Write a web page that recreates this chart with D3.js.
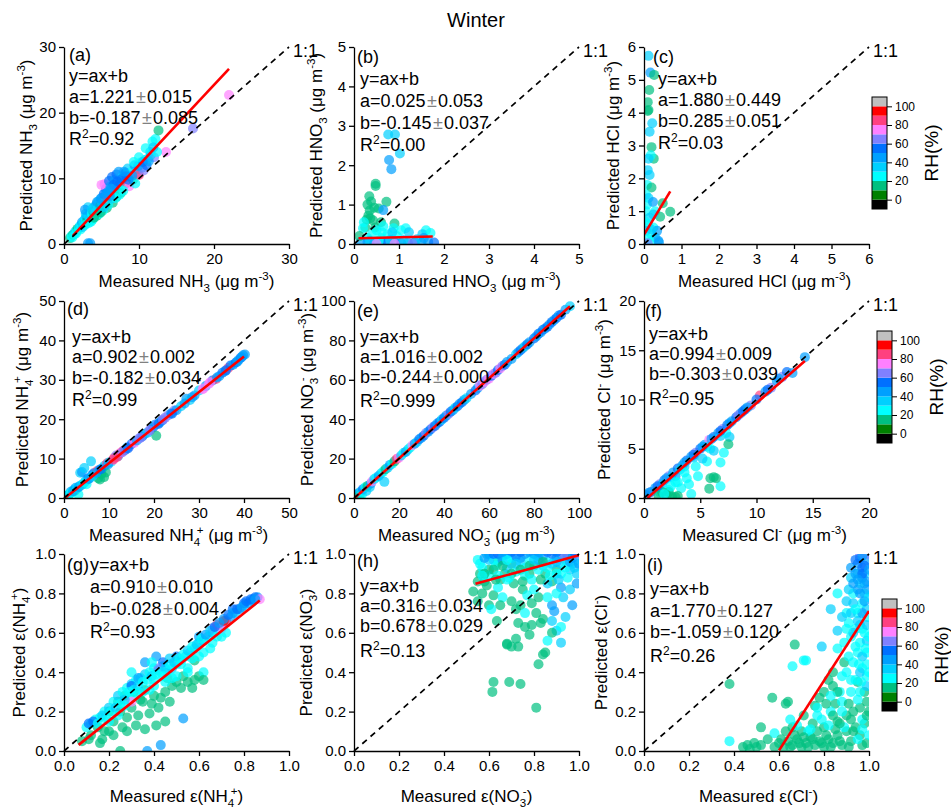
<!DOCTYPE html>
<html>
<head>
<meta charset="utf-8">
<script src="https://cdn.jsdelivr.net/npm/d3@7"></script>
<style>
body { margin: 0; background: #fff; }
svg { font-family: "Liberation Sans", Arial, sans-serif; }
</style>
</head>
<body>
<svg id="chart" width="951" height="809"></svg>
<script>
// ---- data: [measured, predicted, RH%] ----
var ptsA = [[0.8,0.9,15],[1.0,1.2,25],[1.2,1.4,15],[1.4,1.5,25],[1.5,1.9,35],[1.7,2.0,25],[1.8,2.3,15],[2.0,2.4,25],[2.1,2.7,35],[2.3,2.9,25],[2.4,3.3,45],[2.6,3.2,25],[2.7,3.6,35],[2.9,3.9,25],[3.0,4.2,45],[3.1,3.5,15],[3.3,4.4,25],[3.4,4.0,35],[3.5,4.8,45],[2.9,4.6,35],[3.2,5.6,35],[2.8,5.2,45],[3.7,4.6,25],[3.9,5.0,15],[4.0,5.6,35],[4.2,4.8,25],[4.3,6.0,45],[4.5,5.4,25],[4.6,6.5,35],[4.8,5.8,15],[5.0,7.0,45],[5.1,6.2,25],[5.3,7.6,55],[5.5,6.0,15],[5.6,8.4,55],[5.8,6.8,85],[5.0,9.0,75],[5.4,9.1,75],[6.0,9.6,55],[6.2,8.8,45],[6.4,10.2,55],[6.5,7.6,25],[6.7,8.2,65],[6.8,9.8,45],[7.0,10.6,55],[7.2,8.8,35],[7.3,11.0,45],[7.5,9.4,55],[7.6,7.8,15],[7.8,10.2,35],[8.0,9.0,25],[8.2,10.8,55],[8.4,9.3,85],[8.5,11.5,35],[8.7,8.8,75],[8.8,10.4,45],[9.0,11.0,25],[9.2,9.8,15],[9.4,12.0,45],[9.6,10.8,65],[9.8,11.4,35],[10.0,10.5,85],[10.2,12.4,25],[10.4,11.6,45],[10.6,11.2,65],[10.8,12.8,35],[11.0,12.0,55],[11.2,13.0,25],[11.5,14.0,35],[11.8,15.6,25],[12.0,13.2,65],[12.2,16.0,25],[12.6,17.3,15],[13.6,14.0,75],[17.2,17.6,65],[22.0,22.7,75],[3.2,0.1,45],[3.5,0.1,45],[6.5,6.3,15],[7.0,7.2,15],[5.7,5.5,15],[4.4,4.3,15],[9.5,9.2,25],[3.6,3.4,25],
  [1.1,1.0,25],[1.6,1.6,25],[2.2,2.2,25],[2.5,2.6,35],[2.8,2.9,25],[3.3,3.2,25],[3.8,3.7,25],[4.1,4.2,25],[4.7,4.6,25],[5.2,5.1,25],[5.9,6.0,25],[6.3,6.9,35],[6.9,7.0,25],[7.4,7.5,25],[7.9,8.1,25],[8.6,9.8,55],[6.6,9.0,55],[7.1,9.5,55],[5.9,8.0,45],[6.1,7.3,45],[7.7,9.9,55],[8.3,10.3,55],[9.1,10.4,45],[9.9,11.9,45],[10.5,12.5,55],[11.3,12.6,45],[11.6,13.6,35],[12.4,14.0,25],[4.0,4.0,15],[4.9,4.8,15],[5.3,5.6,35],[3.7,5.3,35],[4.4,6.4,45],[4.9,6.9,45],[5.6,7.7,45],[6.3,8.4,45],[8.0,11.0,45],[9.3,12.5,25],[10.0,13.2,25],[10.9,14.6,25],[11.9,14.7,35]];
var ptsB = [[0.76,2.78,35],[0.91,2.78,35],[0.78,2.13,45],[1.02,2.3,35],[0.83,1.9,45],[0.48,1.53,15],[0.48,1.47,15],[0.34,1.21,15],[0.3,1.0,15],[0.38,1.08,15],[0.35,0.85,15],[0.45,0.92,15],[0.72,1.07,15],[0.55,0.9,15],[0.32,0.72,15],[0.36,0.65,15],[0.42,0.6,15],[0.28,0.62,15],[0.6,0.55,15],[0.9,0.52,15],[0.25,0.42,15],[0.47,0.42,15],[0.65,0.86,45],[0.2,0.4,25],[0.5,0.35,25],[0.62,0.3,25],[0.75,0.25,25],[0.88,0.4,25],[1.05,0.35,25],[1.15,0.4,25],[1.22,0.3,35],[1.6,0.35,25],[1.52,0.25,35],[1.7,0.28,25],[0.95,0.2,25],[0.6,0.15,25],[0.3,0.15,25],[0.4,0.25,25],[0.15,0.05,45],[0.3,0.05,45],[0.45,0.02,55],[0.6,0.05,45],[0.75,0.03,55],[0.9,0.05,45],[1.05,0.02,55],[1.2,0.04,45],[1.35,0.05,55],[1.5,0.03,45],[1.65,0.05,45],[1.78,0.04,55],[1.4,0.12,35],[1.55,0.15,45],[1.1,0.1,35],[0.8,0.1,35],[0.55,0.08,25],[0.35,0.08,35],[0.5,0.0,75],[0.9,0.0,75],[1.3,0.0,65],[0.65,0.45,25],[0.85,0.3,35],[0.12,0.2,15],[0.22,0.55,25]];
var ptsC = [[0.12,5.73,35],[0.17,5.22,45],[0.27,5.15,15],[0.14,4.69,15],[0.1,4.32,15],[0.12,4.08,15],[0.1,4.05,15],[0.22,3.68,35],[0.15,3.42,35],[0.2,2.95,15],[0.26,2.6,15],[0.18,2.7,25],[0.12,2.6,35],[0.1,2.25,35],[0.15,2.1,35],[0.08,1.8,25],[0.2,1.72,15],[0.05,1.5,25],[0.12,1.4,35],[0.08,1.2,25],[0.24,1.28,45],[0.3,1.0,25],[0.05,1.0,25],[0.15,0.8,35],[0.1,0.6,25],[0.25,0.5,25],[0.05,0.4,35],[0.2,0.3,25],[0.3,0.2,35],[0.1,0.15,25],[0.35,0.4,45],[0.38,0.1,45],[0.15,0.05,25],[0.4,0.05,45],[0.5,1.24,15],[0.7,0.98,15],[0.43,0.83,15],[0.1,0.02,65],[0.25,0.9,35],[0.02,0.7,25],[0.18,0.45,35]];
var ptsD = [[0.3,0.2,25],[0.6,0.5,35],[0.9,0.6,15],[1.2,1.0,25],[1.5,1.6,45],[1.8,1.4,25],[2.1,2.0,35],[2.4,1.8,15],[2.6,2.6,45],[3.0,2.5,25],[3.2,0.9,25],[3.4,3.0,35],[3.6,6.4,35],[4.0,6.6,45],[4.5,7.6,35],[4.2,3.5,25],[4.8,4.3,45],[5.0,3.5,25],[5.3,4.9,55],[5.7,5.0,35],[6.0,9.3,35],[6.2,5.8,45],[6.6,6.3,55],[7.0,6.0,25],[7.3,6.8,85],[7.6,5.0,15],[7.9,7.2,45],[8.0,4.7,15],[8.3,6.1,15],[8.6,7.6,25],[8.9,5.3,15],[9.0,8.2,35],[9.3,6.5,15],[9.6,8.8,85],[10.0,9.0,35],[10.5,9.2,25],[10.8,9.6,75],[11.2,10.2,85],[11.6,10.8,65],[12.0,10.6,45],[12.4,11.3,85],[12.8,11.6,75],[13.2,12.0,85],[13.6,12.2,55],[14.0,12.8,45],[14.5,13.0,65],[15.0,13.7,55],[15.6,14.0,75],[16.2,14.6,45],[16.8,15.2,65],[17.4,15.6,55],[18.0,16.3,45],[18.6,16.6,35],[19.2,17.3,65],[19.8,17.9,55],[20.2,18.6,45],[20.5,15.8,15],[20.8,18.9,65],[21.3,19.2,35],[21.8,19.7,55],[22.5,20.4,65],[23.2,21.0,65],[23.8,21.5,45],[24.5,22.2,65],[25.0,22.3,45],[26.0,23.3,35],[27.2,25.2,45],[28.0,24.9,35],[29.0,26.0,45],[30.0,27.3,35],[30.8,27.6,75],[31.5,28.4,45],[32.2,29.0,75],[33.0,29.8,55],[33.8,30.2,85],[34.5,30.9,45],[35.2,31.8,55],[35.8,32.2,45],[36.5,33.0,85],[37.0,33.6,55],[37.6,33.8,45],[38.2,34.4,55],[38.8,35.0,45],[39.3,35.6,55],[39.8,36.2,45],[40.2,36.4,45],
  [0.5,0.4,45],[1.0,0.8,35],[1.4,1.2,25],[2.0,1.7,45],[2.8,2.4,35],[3.3,2.8,45],[3.9,3.3,35],[4.6,4.0,25],[5.5,4.8,45],[6.4,5.6,35],[7.2,6.4,45],[8.2,7.3,55],[9.8,8.5,45],[11.0,9.8,85],[11.8,10.4,85],[13.0,11.6,65],[14.2,12.6,55],[17.0,15.3,65],[19.0,17.1,65],[21.0,18.8,55],[22.0,19.9,65],[24.0,21.4,55],[26.8,24.0,45],[28.5,25.6,45],[31.0,27.8,75],[32.5,29.4,75],[34.0,30.6,45],[36.0,32.4,55],[38.5,34.6,45],[39.5,35.8,45]];
var ptsE = [[0.5,0.8,25],[1,1.8,35],[1.5,0.5,25],[2,2.4,45],[2.5,1.2,15],[3,3.3,35],[3.5,1.8,25],[4,4.5,55],[5,5.4,25],[5.5,3.6,35],[6,6.1,15],[7,5.5,35],[7.5,7.4,45],[8,8.4,75],[9,9.6,35],[10,10.4,25],[11,11.2,45],[12,12.4,35],[13.5,8.2,35],[13,13.4,25],[14,14.6,15],[15,15.4,35],[16,16.8,45],[17,17.4,25],[18,18.6,15],[19,19.8,85],[20,20.4,75],[21,21.6,35],[22,22.8,25],[23,23.4,45],[24,24.6,35],[25,25.6,25],[26,26.8,75],[27,27.6,45],[28,28.4,35],[29,29.8,55],[30,30.6,45],[31,31.6,55],[32,33,65],[33,33.6,45],[34,34.8,55],[35,35.8,65],[36,36.6,55],[37,37.8,45],[38,38.6,55],[39,39.8,35],[40,40.6,55],[41,41.8,45],[42,42.6,65],[43,43.8,55],[44,44.6,45],[45,45.8,35],[46,46.6,55],[47,47.8,45],[48,48.6,55],[49,49.8,45],[50,50.6,35],[52,52.8,45],[54,54.6,55],[55,55.8,45],[56,57,75],[57,57.8,65],[58,59,75],[59,60,65],[60,60.6,75],[61,62,55],[62,63,75],[63,63.6,65],[64,65,55],[65,65.8,75],[66,67,65],[67,67.6,55],[68,69,45],[70,70.6,45],[72,73,35],[73,74,45],[74,75,55],[75,76,45],[76,77,35],[77,78,55],[78,79,45],[80,81,55],[81,82,45],[82,83.4,55],[83,84,45],[84,85.4,55],[85,86,45],[86,87,55],[87,88.2,45],[88,89.4,55],[89,90.4,45],[90,91.4,55],[91,92.6,45],[92,93,55],[94,95.6,45],[96,97.3,35]];
var ptsF = [[0.2,0.3,45],[0.6,0.6,55],[1,1,45],[1.4,1.4,65],[1.8,1.8,55],[2.2,2.2,65],[2.6,2.6,45],[3.0,3.0,55],[3.4,3.3,45],[3.8,3.8,55],[4.2,4.2,45],[4.6,4.6,65],[5.0,5.0,55],[5.4,5.4,45],[5.8,5.9,75],[6.2,6.2,55],[6.6,6.6,45],[7.0,7.0,65],[7.4,7.4,55],[7.8,7.8,45],[8.2,8.2,55],[8.6,8.6,45],[9.0,9.0,55],[9.5,9.4,65],[10.3,10.4,85],[10.8,10.8,45],[11.3,11.2,65],[11.8,11.9,45],[12.3,12.3,65],[12.7,12.8,55],[13.2,12.7,45],[14.3,14.3,45],[1.6,1.4,35],[2.4,2.1,35],[3.2,2.9,35],[4.4,4.1,35],[5.6,5.2,35],[6.8,6.3,35],[2.8,2.2,45],[3.6,3.2,35],[7.3,6.6,25],[7.1,4.6,25],[5.9,5.0,25],[5.6,3.7,25],[6.8,3.6,25],[4.6,3.2,25],[6.8,1.2,25],[4.0,1.4,25],[3.3,1.0,25],[4.2,0.4,25],[2.8,1.6,25],[3.6,2.6,25],[4.8,2.2,25],[2.2,0.8,25],[1.4,0.6,25],[5.2,4.0,35],[6.2,4.8,35],[7.6,6.2,35],[7.5,5.45,15],[5.9,2.0,15],[6.2,2.1,15],[6.4,2.0,15],[5.8,0.95,15],[2.5,0.1,15],[3.0,0.2,15],[2.0,0.3,15],[1.6,0.6,15],[1.3,0.2,15],[2.8,0.1,15],[2.2,0.6,15],
  [0.4,0.5,45],[1.2,1.2,55],[2.0,2.0,45],[3.6,3.6,45],[4.4,4.4,55],[5.2,5.2,45],[6.0,6.0,45],[6.8,6.8,55],[7.6,7.6,45],[8.4,8.4,65],[8.8,8.8,55],[9.2,9.2,45],[10.0,10.0,55],[11.0,11.0,55],[12.0,12.1,45],[2.4,1.2,25],[3.0,1.6,25],[3.8,2.0,25],[1.8,0.4,25]];
var ptsG = [[0.25,0.0,15],[0.17,0.06,15],[0.2,0.1,15],[0.22,0.15,15],[0.25,0.2,15],[0.28,0.17,15],[0.3,0.22,15],[0.32,0.13,15],[0.35,0.25,15],[0.38,0.19,15],[0.4,0.28,15],[0.42,0.22,15],[0.45,0.3,15],[0.48,0.33,15],[0.5,0.35,15],[0.53,0.38,15],[0.55,0.35,15],[0.58,0.36,15],[0.6,0.38,15],[0.58,0.46,15],[0.15,0.12,15],[0.12,0.08,15],[0.08,0.05,15],[0.27,0.28,15],[0.2,0.2,15],[0.24,0.25,15],[0.31,0.3,15],[0.26,0.12,15],[0.36,0.31,15],[0.46,0.37,15],[0.36,0.11,15],[0.1,0.12,25],[0.12,0.14,25],[0.14,0.16,25],[0.16,0.17,25],[0.18,0.2,25],[0.2,0.22,35],[0.22,0.25,25],[0.24,0.28,35],[0.26,0.3,25],[0.28,0.32,25],[0.3,0.34,35],[0.32,0.36,25],[0.34,0.37,25],[0.36,0.39,35],[0.38,0.4,25],[0.4,0.42,25],[0.42,0.41,35],[0.44,0.43,25],[0.46,0.4,25],[0.48,0.42,35],[0.5,0.44,25],[0.52,0.46,25],[0.54,0.48,35],[0.56,0.5,25],[0.58,0.52,35],[0.6,0.55,25],[0.62,0.56,35],[0.64,0.58,25],[0.66,0.6,35],[0.68,0.62,25],[0.7,0.64,35],[0.72,0.66,35],[0.74,0.68,45],[0.76,0.7,35],[0.78,0.72,45],[0.8,0.74,35],[0.82,0.75,45],[0.84,0.77,45],[0.86,0.78,45],[0.3,0.28,25],[0.35,0.3,25],[0.45,0.35,25],[0.5,0.38,25],[0.55,0.42,25],[0.6,0.48,25],[0.65,0.52,25],[0.7,0.58,25],[0.41,0.48,45],[0.3,0.4,25],[0.55,0.4,25],[0.62,0.4,25],[0.4,0.33,25],[0.11,0.14,55],[0.13,0.15,55],[0.3,0.33,55],[0.33,0.37,45],[0.5,0.48,55],[0.6,0.58,45],[0.75,0.72,55],[0.8,0.75,55],[0.85,0.78,55],[0.84,0.76,45],[0.44,0.45,55],[0.53,0.165,45],[0.43,0.03,45],[0.37,0.0,45],[0.68,0.64,85],[0.72,0.65,85],[0.7,0.62,75],[0.87,0.77,75],[0.66,0.62,65],[0.42,0.42,65],[0.3,0.25,75],[0.71,0.66,95],
  [0.15,0.14,25],[0.17,0.18,35],[0.19,0.16,25],[0.21,0.2,25],[0.23,0.22,35],[0.25,0.24,25],[0.27,0.26,35],[0.29,0.3,25],[0.31,0.31,25],[0.33,0.33,35],[0.35,0.35,25],[0.37,0.36,25],[0.39,0.38,35],[0.41,0.39,25],[0.43,0.4,25],[0.45,0.42,35],[0.47,0.44,25],[0.49,0.45,35],[0.51,0.47,25],[0.53,0.49,25],[0.55,0.51,35],[0.57,0.53,25],[0.59,0.54,35],[0.61,0.57,25],[0.63,0.59,45],[0.65,0.61,35],[0.67,0.63,55],[0.69,0.65,45],[0.71,0.67,45],[0.73,0.69,55],[0.75,0.7,45],[0.77,0.72,55],[0.79,0.73,45],[0.81,0.76,55],[0.83,0.77,55],[0.85,0.77,45],[0.36,0.45,45],[0.39,0.45,25],[0.47,0.47,35],[0.52,0.44,25],[0.57,0.47,25],[0.62,0.5,25],[0.66,0.55,25],[0.68,0.58,25],[0.72,0.6,25],[0.4,0.36,25],[0.44,0.38,25],[0.33,0.3,25],[0.27,0.23,25],[0.2,0.15,25],[0.24,0.18,25],[0.38,0.31,25],[0.48,0.37,25],[0.34,0.26,15],[0.39,0.24,15],[0.43,0.27,15],[0.47,0.25,15],[0.52,0.32,15],[0.57,0.32,15],[0.62,0.36,15],[0.18,0.1,15],[0.22,0.08,15],[0.28,0.1,15],[0.33,0.18,15],[0.16,0.04,15],[0.11,0.06,15],[0.45,0.15,15],[0.41,0.13,15]];
var ptsH = [[0.53,0.81,15],[0.55,0.76,15],[0.57,0.8,15],[0.58,0.86,15],[0.62,0.79,15],[0.6,0.74,15],[0.635,0.66,15],[0.68,0.54,15],[0.68,0.545,15],[0.7,0.53,15],[0.72,0.57,15],[0.73,0.53,15],[0.62,0.35,15],[0.615,0.3,15],[0.69,0.35,15],[0.74,0.34,15],[0.81,0.22,15],[0.73,0.65,15],[0.76,0.63,15],[0.79,0.64,15],[0.83,0.65,15],[0.81,0.7,15],[0.84,0.67,15],[0.82,0.44,15],[0.85,0.5,15],[0.84,0.49,15],[0.74,0.74,15],[0.72,0.72,15],[0.71,0.85,15],[0.75,0.82,15],[0.82,0.78,15],[0.65,0.87,15],[0.67,0.9,15],[0.78,0.9,15],[0.88,0.86,15],[0.6,0.92,15],[0.7,0.95,15],[0.8,0.94,15],[0.9,0.92,15],[0.56,0.9,15],[0.64,0.96,15],[0.85,0.9,15],[0.61,0.72,25],[0.6,0.89,25],[0.64,0.83,25],[0.77,0.79,25],[0.8,0.82,25],[0.88,0.66,35],[0.9,0.61,35],[0.92,0.55,35],[0.68,0.87,25],[0.72,0.91,25],[0.86,0.85,35],[0.57,0.93,25],[0.62,0.97,25],[0.66,0.99,35],[0.7,0.98,25],[0.74,0.96,35],[0.78,0.97,25],[0.82,0.99,35],[0.86,0.96,25],[0.9,0.98,35],[0.94,0.97,25],[0.97,0.95,35],[0.55,0.97,25],[0.59,1.0,35],[0.63,0.94,25],[0.68,0.93,35],[0.76,0.93,25],[0.84,0.94,35],[0.92,0.9,25],[0.96,0.92,35],[0.99,0.97,25],[0.88,0.74,45],[0.89,0.71,45],[0.92,0.83,45],[0.6,1.0,45],[0.64,1.0,55],[0.68,1.0,45],[0.72,0.99,55],[0.76,1.0,45],[0.8,1.0,55],[0.84,0.99,45],[0.88,1.0,55],[0.92,1.0,45],[0.95,0.99,55],[0.98,1.0,45],[0.7,1.01,55],[0.78,1.01,45],[0.86,1.01,55],[0.94,1.01,45],[0.66,0.97,45],[0.74,0.98,45],[0.82,0.97,45],[0.9,0.96,45],[0.97,0.98,45],[0.99,1.0,65],[0.93,1.0,65],
  [0.56,0.95,25],[0.58,0.9,15],[0.6,0.97,35],[0.62,0.92,15],[0.64,0.89,25],[0.66,0.94,15],[0.68,0.97,25],[0.7,0.9,15],[0.72,0.95,35],[0.74,0.92,15],[0.76,0.89,25],[0.78,0.94,15],[0.8,0.97,35],[0.82,0.92,25],[0.84,0.96,15],[0.86,0.93,25],[0.88,0.95,35],[0.9,0.9,25],[0.92,0.95,35],[0.94,0.93,25],[0.96,0.96,45],[0.98,0.93,35],[1.0,0.95,45],[0.58,0.98,45],[0.62,1.0,55],[0.66,1.01,45],[0.74,1.01,55],[0.82,1.01,45],[0.9,1.01,55],[0.98,1.01,55],[0.63,0.87,15],[0.69,0.88,25],[0.75,0.86,15],[0.79,0.87,25],[0.83,0.87,15],[0.87,0.89,25],[0.91,0.87,35],[0.95,0.88,25],[0.99,0.9,35],[0.93,0.78,35],[0.96,0.82,35],[0.9,0.8,25],[0.86,0.78,25],[0.99,0.85,45],[0.94,0.68,35],[0.97,0.74,45],[0.92,0.63,25],[0.88,0.6,15],[0.79,0.75,15],[0.76,0.7,25],[0.7,0.76,15],[0.66,0.78,25],[0.59,0.84,15],[0.55,0.86,15],[0.57,0.89,25],[0.65,0.74,15],[0.78,0.59,15],[0.86,0.56,25]];
var ptsI = [[0.38,0.34,15],[0.44,0.02,15],[0.46,0.03,15],[0.47,0.01,15],[0.49,0.04,15],[0.5,0.02,15],[0.52,0.03,15],[0.52,0.12,15],[0.57,0.27,15],[0.64,0.25,15],[0.63,0.24,15],[0.67,0.54,15],[0.76,0.23,15],[0.84,0.40,15],[0.82,0.36,15],[0.84,0.33,15],[0.85,0.24,15],[0.89,0.45,15],[0.8,0.3,15],[0.78,0.27,15],[0.6,0.04,15],[0.62,0.02,15],[0.64,0.05,15],[0.66,0.03,15],[0.68,0.06,15],[0.7,0.02,15],[0.72,0.04,15],[0.74,0.07,15],[0.76,0.03,15],[0.78,0.05,15],[0.8,0.02,15],[0.82,0.06,15],[0.84,0.04,15],[0.86,0.08,15],[0.88,0.03,15],[0.9,0.1,15],[0.92,0.05,15],[0.94,0.12,15],[0.96,0.08,15],[0.98,0.14,15],[0.97,0.03,15],[0.86,0.15,15],[0.9,0.18,15],[0.8,0.12,15],[0.75,0.14,15],[0.7,0.1,15],[0.66,0.12,15],[0.55,0.06,15],[0.58,0.02,15],[0.93,0.2,15],[0.96,0.22,15],[0.99,0.25,15],[0.95,0.35,15],[0.98,0.3,15],[0.38,0.05,25],[0.58,0.09,25],[0.65,0.16,25],[0.66,0.43,25],[0.72,0.46,25],[0.71,0.46,25],[0.79,0.53,35],[0.86,0.52,25],[0.86,0.61,35],[0.83,0.72,35],[0.9,0.7,25],[0.86,0.8,25],[0.73,0.1,25],[0.77,0.18,25],[0.83,0.2,25],[0.88,0.25,25],[0.92,0.3,25],[0.9,0.4,25],[0.93,0.45,25],[0.95,0.5,25],[0.97,0.42,25],[0.99,0.38,25],[0.92,0.58,25],[0.94,0.62,25],[0.96,0.55,25],[0.98,0.6,25],[0.91,0.65,25],[0.95,0.7,25],[0.97,0.75,25],[0.99,0.68,25],[0.93,0.8,25],[0.96,0.85,25],[0.98,0.8,25],[0.99,0.5,25],[0.94,0.36,25],[0.97,0.16,25],[0.93,0.75,35],[0.96,0.64,35],[0.99,0.72,35],[0.95,0.9,35],[0.92,0.88,35],[0.98,0.9,35],[0.95,0.95,45],[0.97,0.93,55],[0.99,0.97,45],[0.96,0.98,55],[0.98,0.85,45],[0.97,0.88,45],[0.94,0.9,45],[0.99,0.82,45],[0.95,0.82,45],[0.96,1.0,65],[0.99,1.0,65],
  [0.87,0.05,15],[0.91,0.02,15],[0.95,0.06,25],[0.99,0.04,15],[0.89,0.12,25],[0.93,0.1,15],[0.97,0.11,25],[0.99,0.18,15],[0.88,0.2,25],[0.92,0.16,15],[0.95,0.26,25],[0.91,0.24,15],[0.87,0.3,25],[0.96,0.3,25],[0.99,0.33,35],[0.92,0.36,25],[0.88,0.38,25],[0.96,0.4,35],[0.99,0.44,25],[0.91,0.48,25],[0.97,0.48,35],[0.94,0.53,25],[0.89,0.55,25],[0.99,0.56,35],[0.93,0.6,35],[0.97,0.62,25],[0.9,0.62,25],[0.88,0.68,35],[0.95,0.66,35],[0.99,0.64,35],[0.92,0.7,35],[0.97,0.7,45],[0.9,0.76,35],[0.94,0.72,25],[0.98,0.76,45],[0.91,0.82,35],[0.96,0.8,45],[0.99,0.86,45],[0.93,0.85,45],[0.97,0.9,55],[0.95,0.87,45],[0.92,0.93,45],[0.98,0.94,55],[0.94,0.97,55],[0.97,0.99,45],[1.0,0.92,45],[1.0,0.78,35],[1.0,0.58,25],[1.0,0.4,25],[1.0,0.2,15],[1.0,0.08,25],[0.985,0.52,25],[0.965,0.35,25],[0.955,0.44,25],[0.61,0.06,15],[0.63,0.1,15],[0.65,0.02,15],[0.67,0.08,15],[0.69,0.04,15],[0.71,0.07,15],[0.73,0.02,15],[0.75,0.06,15],[0.77,0.1,15],[0.79,0.04,15],[0.81,0.08,15],[0.83,0.02,15],[0.85,0.11,15],[0.87,0.14,15],[0.79,0.16,25],[0.82,0.13,25],[0.74,0.11,25],[0.68,0.13,25],[0.84,0.18,15],[0.71,0.18,15],[0.77,0.22,25],[0.81,0.24,15],[0.86,0.3,15],[0.83,0.28,25]];

var panelTags  = ['(a)','(b)','(c)','(d)','(e)','(f)','(g)','(h)','(i)'];
var axisMax    = [30, 5, 6, 50, 100, 20, 1, 1, 1];
var tickLists  = [[0,10,20,30],[0,1,2,3,4,5],[0,1,2,3,4,5,6],[0,10,20,30,40,50],[0,20,40,60,80,100],[0,5,10,15,20],
                  [0,0.2,0.4,0.6,0.8,1.0],[0,0.2,0.4,0.6,0.8,1.0],[0,0.2,0.4,0.6,0.8,1.0]];
// fitted lines as drawn (slope, intercept, x range)
var fitSlope   = [1.221, 0.025, 1.880, 0.902, 1.016, 0.994, 0.910, 0.316, 1.770];
var fitInter   = [-0.187, 0.145, 0.285, -0.182, -0.244, -0.303, -0.028, 0.678, -1.059];
var fitFrom    = [1.2, 0.1, 0.01, 0.4, 0.3, 0.3, 0.065, 0.54, 0.6];
var fitTo      = [22, 1.75, 0.7, 40, 96, 14.3, 0.87, 1.0, 1.0];
var aVal  = ['1.221','0.025','1.880','0.902','1.016','0.994','0.910','0.316','1.770'];
var aErr  = ['0.015','0.053','0.449','0.002','0.002','0.009','0.010','0.034','0.127'];
var bVal  = ['-0.187','-0.145','0.285','-0.182','-0.244','-0.303','-0.028','0.678','-1.059'];
var bErr  = ['0.085','0.037','0.051','0.034','0.000','0.039','0.004','0.029','0.120'];
var r2Val = ['0.92','0.00','0.03','0.99','0.999','0.95','0.93','0.13','0.26'];

var rhBreaks = [0,10,20,30,40,50,60,70,80,90,100];
var rhColors = ['#000000','#008000','#00c080','#00ffff','#00d0ff','#00a0ff','#0070ff','#8080ff','#ff80ff','#ff4080','#ff0000','#c0c0c0'];
var rhTicks  = [0,20,40,60,80,100];

// labels: [text, kind]
var yLabels = [
  [['Predicted NH'],['3','sub'],[' (μg m'],['-3','sup'],[')']],
  [['Predicted HNO'],['3','sub'],[' (μg m'],['-3','sup'],[')']],
  [['Predicted HCl (μg m'],['-3','sup'],[')']],
  [['Predicted NH'],['4','sub'],['+','supk'],[' (μg m'],['-3','sup'],[')']],
  [['Predicted NO'],['3','sub'],['-','supk'],[' (μg m'],['-3','sup'],[')']],
  [['Predicted Cl'],['-','sup'],[' (μg m'],['-3','sup'],[')']],
  [['Predicted ε(NH'],['4','sub'],['+','supk'],[')']],
  [['Predicted ε(NO'],['3','sub'],['-','supk'],[')']],
  [['Predicted ε(Cl'],['-','sup'],[')']]
];
var xLabels = [
  [['Measured NH'],['3','sub'],[' (μg m'],['-3','sup'],[')']],
  [['Measured HNO'],['3','sub'],[' (μg m'],['-3','sup'],[')']],
  [['Measured HCl (μg m'],['-3','sup'],[')']],
  [['Measured NH'],['4','sub'],['+','supk'],[' (μg m'],['-3','sup'],[')']],
  [['Measured NO'],['3','sub'],['-','supk'],[' (μg m'],['-3','sup'],[')']],
  [['Measured Cl'],['-','sup'],[' (μg m'],['-3','sup'],[')']],
  [['Measured ε(NH'],['4','sub'],['+','supk'],[')']],
  [['Measured ε(NO'],['3','sub'],['-','supk'],[')']],
  [['Measured ε(Cl'],['-','sup'],[')']]
];

var allPts = [ptsA, ptsB, ptsC, ptsD, ptsE, ptsF, ptsG, ptsH, ptsI];

// ---- layout ----
var colLeft = [64, 354, 644], rowTop = [47, 301, 554], W = 225, H = 197;
var ann = [
  {lx:5, ly:14, tx:5,  ty:[35,56,77,98]},
  {lx:3, ly:16, tx:6,  ty:[38,60,82,104]},
  {lx:9, ly:16, tx:14, ty:[38,59,80,102]},
  {lx:3, ly:14, tx:8,  ty:[42,62,83,105]},
  {lx:3, ly:16, tx:6,  ty:[42,62,82,106]},
  {lx:1, ly:16, tx:5,  ty:[39,59,79,104]},
  {lx:3, ly:17, tx:26, ty:[17,39,61,84]},
  {lx:3, ly:13, tx:6,  ty:[38,58,78,103]},
  {lx:3, ly:17, tx:6,  ty:[41,63,84,108]}
];
var yLabX = [32, 322, 619, 28, 313, 610, 25, 312, 607];
var xLabDx = [10, 0, 8, 2, 0, 8, 0, 0, 2];
var cbarPos = [[872, 97], [877, 331], [882, 599]];

var svg = d3.select('#chart');
var rhColor = d3.scaleThreshold().domain(rhBreaks).range(rhColors);

svg.append('text')
  .attr('x', 476).attr('y', 27)
  .attr('text-anchor', 'middle')
  .attr('font-size', 20)
  .text('Winter');

function rich(textSel, parts, size) {
  var shift = 0;
  parts.forEach(function(p) {
    var t = textSel.append('tspan').text(p[0]);
    var target = 0;
    if (p[1] === 'sub') { target = size * 0.3; t.attr('font-size', size * 0.68); }
    if (p[1] === 'sup' || p[1] === 'supk') { target = -size * 0.42; t.attr('font-size', size * 0.68); }
    if (p[1] === 'supk') t.attr('dx', -size * 0.2);
    if (target !== shift) { t.attr('dy', target - shift); shift = target; }
  });
}

allPts.forEach(function(pts, i) {
  var col = i % 3, row = Math.floor(i / 3);
  var left = colLeft[col], top = rowTop[row];
  var x = d3.scaleLinear().domain([0, axisMax[i]]).range([0, W]);
  var y = d3.scaleLinear().domain([0, axisMax[i]]).range([H, 0]);
  var fmt = axisMax[i] === 1 ? d3.format('.1f') : d3.format('d');

  var g = svg.append('g').attr('transform', 'translate(' + left + ',' + top + ')');

  g.append('clipPath').attr('id', 'clip' + i)
    .append('rect').attr('width', W).attr('height', H);

  var plot = g.append('g').attr('clip-path', 'url(#clip' + i + ')');

  plot.selectAll('circle')
    .data(pts)
    .enter()
    .append('circle')
    .attr('cx', function(d) { return x(d[0]); })
    .attr('cy', function(d) { return y(d[1]); })
    .attr('r', 5)
    .attr('fill', function(d) { return rhColor(d[2]); })
    .attr('fill-opacity', 0.7);

  // 1:1 line
  g.append('line')
    .attr('x1', x(0)).attr('y1', y(0))
    .attr('x2', x(axisMax[i])).attr('y2', y(axisMax[i]))
    .attr('stroke', '#000').attr('stroke-width', 1.7)
    .attr('stroke-dasharray', '6,5');

  // fit
  plot.append('line')
    .attr('x1', x(fitFrom[i])).attr('y1', y(fitSlope[i] * fitFrom[i] + fitInter[i]))
    .attr('x2', x(fitTo[i])).attr('y2', y(fitSlope[i] * fitTo[i] + fitInter[i]))
    .attr('stroke', '#ff0000').attr('stroke-width', 2.6);

  var xAxis = d3.axisBottom(x).tickValues(tickLists[i]).tickFormat(fmt).tickSize(5).tickSizeOuter(0).tickPadding(4);
  var yAxis = d3.axisLeft(y).tickValues(tickLists[i]).tickFormat(fmt).tickSize(5).tickSizeOuter(0).tickPadding(3);

  g.append('g').attr('transform', 'translate(0,' + H + ')').call(xAxis);
  g.append('g').call(yAxis);
  g.selectAll('.domain, .tick line').attr('stroke', '#000').attr('stroke-width', 1.3);
  g.selectAll('.tick text').attr('font-size', 15).attr('font-family', '"Liberation Sans", Arial, sans-serif').attr('fill', '#000');

  g.append('text').attr('x', W + 4).attr('y', 10).attr('font-size', 18).text('1:1');

  // annotations
  var a = ann[i];
  g.append('text').attr('x', a.lx).attr('y', a.ly).attr('font-size', 18).text(panelTags[i]);
  var lines = [
    [['y=ax+b']],
    [['a=' + aVal[i]], ['±', 'pm'], [aErr[i], 'after']],
    [['b=' + bVal[i]], ['±', 'pm'], [bErr[i], 'after']],
    [['R'], ['2', 'sup'], ['=' + r2Val[i]]]
  ];
  lines.forEach(function(parts, k) {
    var t = g.append('text').attr('x', a.tx).attr('y', a.ty[k]).attr('font-size', 18);
    var shift = 0;
    parts.forEach(function(p) {
      var s = t.append('tspan').text(p[0]);
      if (p[1] === 'pm') s.attr('fill', '#808080').attr('dx', 1.5);
      if (p[1] === 'after') s.attr('dx', 1);
      if (p[1] === 'sup') { s.attr('font-size', 12).attr('dy', -7); shift = -7; }
      else if (shift !== 0) { s.attr('dy', -shift); shift = 0; }
    });
  });

  // axis labels
  var xl = g.append('text')
    .attr('x', W / 2 + xLabDx[i])
    .attr('y', H + (row === 2 ? 51 : 43))
    .attr('text-anchor', 'middle')
    .attr('font-size', 17);
  rich(xl, xLabels[i], 17);

  var yl = svg.append('text')
    .attr('transform', 'translate(' + yLabX[i] + ',' + (top + H / 2) + ') rotate(-90)')
    .attr('text-anchor', 'middle')
    .attr('font-size', 17);
  rich(yl, yLabels[i], 17);
});

// colour bars
var cbH = 112, cbW = 15;
var cy = d3.scaleLinear().domain([-10, 110]).range([cbH, 0]);
var bandLo = [-10].concat(rhBreaks);
cbarPos.forEach(function(p) {
  var g = svg.append('g').attr('transform', 'translate(' + p[0] + ',' + p[1] + ')');
  g.selectAll('rect.band')
    .data(rhColors)
    .enter()
    .append('rect')
    .attr('class', 'band')
    .attr('x', 0)
    .attr('width', cbW)
    .attr('y', function(d, k) { return cy(bandLo[k] + 10); })
    .attr('height', function(d, k) { return cy(bandLo[k]) - cy(bandLo[k] + 10); })
    .attr('fill', function(d) { return d; });
  g.append('rect').attr('width', cbW).attr('height', cbH)
    .attr('fill', 'none').attr('stroke', '#000').attr('stroke-width', 1);
  var ax = g.append('g').attr('transform', 'translate(' + cbW + ',0)')
    .call(d3.axisRight(cy).tickValues(rhTicks).tickSize(5).tickSizeOuter(0).tickPadding(3));
  ax.select('.domain').remove();
  ax.selectAll('.tick text').attr('font-size', 12).attr('font-family', '"Liberation Sans", Arial, sans-serif');
  svg.append('text')
    .attr('transform', 'translate(' + (p[0] + 66) + ',' + (p[1] + cbH / 2) + ') rotate(-90)')
    .attr('text-anchor', 'middle')
    .attr('font-size', 19)
    .text('RH(%)');
});
</script>
</body>
</html>
